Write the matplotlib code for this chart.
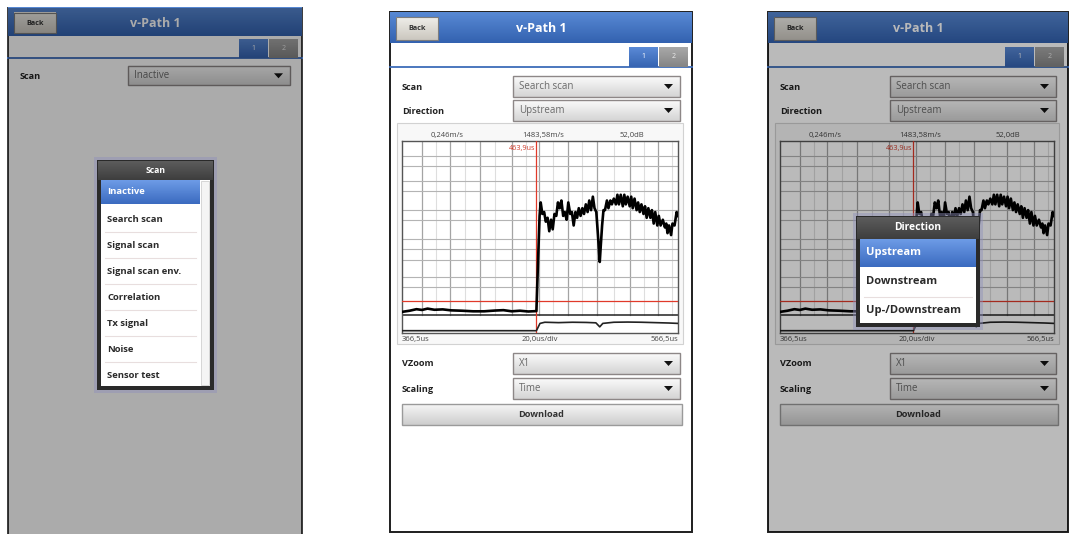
import numpy as np
import matplotlib
matplotlib.use("Agg")
from matplotlib import pyplot as plt
from matplotlib.patches import Rectangle, Polygon
from matplotlib.colors import LinearSegmentedColormap

plt.rcParams['font.family'] = ['Open Sans', 'DejaVu Sans']

# --- data ---
title = "v-Path 1"
scan_items = ["Inactive", "Search scan", "Signal scan", "Signal scan env.",
              "Correlation", "Tx signal", "Noise", "Sensor test"]
direction_items = ["Upstream", "Downstream", "Up-/Downstream"]
top_rows = [("Scan", "Search scan"), ("Direction", "Upstream")]
bottom_rows = [("VZoom", "X1"), ("Scaling", "Time")]
graph_top_labels = ["0,246m/s", "1483,58m/s", "52,0dB"]
graph_bottom_labels = ["366,5us", "20,0us/div", "566,5us"]
t_start, t_end = 366.5, 566.5
cursor_us = 463.9
threshold = 16.7     # red level line (percent of screen height)
sep_level = 9.4      # split between signal and envelope strip
grid_x_major = [381, 401, 423, 446, 466, 487, 508, 532, 552]
grid_x_minor = [391, 412, 434, 456, 476, 497, 520, 542, 562]
grid_y = [24, 29, 38, 44, 49, 59, 64, 74, 79, 87, 92]

sig_t = [366.5, 372, 377, 381, 385, 390, 396, 402, 410, 418, 426, 434, 440, 446, 452, 458, 463.9,
         465.2, 466.2, 467.0, 468.2, 469.5, 470.7, 472.0, 473.2, 474.5, 475.7, 477.0, 478.3,
         479.5, 480.8, 482.0, 483.3, 484.5, 485.8, 487.0, 488.4, 489.6, 490.9, 492.2, 493.4,
         494.6, 495.9, 497.2, 498.4, 499.7, 501.0, 502.2, 503.5, 504.8, 506.0, 507.3, 508.5,
         509.3, 509.8, 510.5, 511.5, 512.5, 513.6, 515.0, 516.1, 517.5, 518.6, 520.0, 521.5,
         522.6, 523.7, 525.0, 526.5, 527.6, 528.7, 530.0, 531.5, 532.6, 533.7, 535.0, 536.5,
         537.6, 538.8, 540.0, 541.5, 542.6, 543.8, 545.0, 546.5, 547.6, 548.9, 550.0, 551.5,
         552.6, 553.9, 555.5, 557.0, 558.0, 558.9, 560.0, 561.5, 562.5, 564.0, 565.5, 566.5]
sig_v = [11.0, 11.6, 12.4, 12.0, 12.7, 12.1, 12.3, 11.8, 11.6, 11.3, 11.3, 11.7, 11.9, 11.3, 11.6, 11.2, 11.4,
         40, 61, 68, 62, 63, 58, 60, 53, 59, 54, 62, 61,
         68, 65, 69, 61, 63, 59, 68, 62, 63, 56, 63, 60,
         65, 61, 65, 62, 67, 63, 69, 64, 71, 65, 63, 51,
         42, 37, 45, 56, 64, 64, 69, 65, 69, 67, 70, 67,
         72, 67, 72, 66, 72, 67, 71, 66, 71, 65, 70, 64,
         68, 63, 67, 62, 66, 60, 65, 60, 64, 57, 63, 56,
         61, 56, 59, 55, 57, 52, 56, 51, 57, 56, 63, 61]
env_t = [366.5, 463.9, 466.5, 470, 480, 490, 500, 507, 509.8, 512, 520, 530, 540, 550, 560, 566.5]
env_v = [1.2, 1.2, 5.0, 5.6, 5.4, 5.6, 5.5, 5.3, 3.2, 5.0, 5.6, 5.7, 5.6, 5.4, 5.2, 5.0]

W, H = 1069, 534
fig = plt.figure(figsize=(W / 100, H / 100), dpi=100)
ax = fig.add_axes([0, 0, 1, 1])
top = fig.add_axes([0, 0, 1, 1], zorder=5)


def rect(a, x0, y0, x1, y1, fc, ec='none', lw=0, z=1, alpha=1.0):
    a.add_patch(Rectangle((x0, y0), x1 - x0, y1 - y0, facecolor=fc, edgecolor=ec,
                          linewidth=lw, zorder=z, alpha=alpha))


def grad(a, x0, y0, x1, y1, c0, c1, z=1, ec=None, lw=0.8):
    cm = LinearSegmentedColormap.from_list('g', [c0, c1])
    a.imshow(np.linspace(0, 1, 40).reshape(-1, 1), cmap=cm, extent=(x0, x1, y1, y0),
             aspect='auto', zorder=z, interpolation='bilinear')
    if ec:
        rect(a, x0, y0, x1, y1, 'none', ec, lw, z + 0.1)


def dropdown(a, x0, y0, x1, y1, text, z=3):
    grad(a, x0, y0, x1, y1, '#fbfbfb', '#d4d4d4', z, ec='#8d8787', lw=1)
    yc = (y0 + y1) / 2
    a.text(x0 + 6, yc, text, fontsize=7, color='#6a6a6a', va='center', ha='left', zorder=z + 1)
    a.add_patch(Polygon([(x1 - 16, yc - 2.5), (x1 - 7, yc - 2.5), (x1 - 11.5, yc + 2.5)],
                        closed=True, facecolor='#111', zorder=z + 1))


def graph(ox, w):
    l, r, t, b = ox + 12, ox + w - 14, 141, 333
    rect(ax, ox + 7, 123, ox + w - 9, 344, '#f8f8f8', '#d2d2d2', 0.8, z=2)
    for frac, lab in zip([0.163, 0.511, 0.833], graph_top_labels):
        ax.text(l + frac * (r - l), 135, lab, fontsize=5.5, color='#444', ha='center', va='center', zorder=3)
    ax.text(l, 339, graph_bottom_labels[0], fontsize=5.5, color='#444', ha='left', va='center', zorder=3)
    ax.text((l + r) / 2, 339, graph_bottom_labels[1], fontsize=5.5, color='#444', ha='center', va='center', zorder=3)
    ax.text(r, 339, graph_bottom_labels[2], fontsize=5.5, color='#444', ha='right', va='center', zorder=3)

    g = fig.add_axes([l / W, 1 - b / H, (r - l) / W, (b - t) / H], zorder=1)
    g.set_facecolor('white')
    g.set_xlim(t_start, t_end)
    g.set_ylim(0, 100)
    g.set_xticks([])
    g.set_yticks([])
    for sp in g.spines.values():
        sp.set_color('#555')
        sp.set_linewidth(1)
    ys = sep_level / 100
    for xv in grid_x_minor:
        g.axvline(xv, ymin=ys, color='#dedede', lw=0.8, zorder=1)
    for xv in grid_x_major:
        g.axvline(xv, ymin=ys, color='#a4a4a4', lw=0.9, zorder=1)
    for yv in grid_y:
        g.axhline(yv, color='#b4b4b4', lw=0.8, zorder=1)
    g.axhline(sep_level, color='#222', lw=1.1, zorder=2)
    g.axhline(threshold, color='#e03a2a', lw=0.9, zorder=3)
    g.axvline(cursor_us, color='#e03a2a', lw=0.9, zorder=3)
    g.text(cursor_us - 0.6, 96, "463,9us", fontsize=5.2, color='#d03a2a', ha='right', va='center', zorder=4)
    g.plot(sig_t, sig_v, color='black', lw=1.9, zorder=5)
    g.plot(env_t, env_v, color='#222', lw=1.2, zorder=5)


def screen(ox, oy, w, bottom, s, rows, with_graph, edge='#1e1e1e'):
    def Y(v):
        return oy + s * v
    rect(ax, ox, oy, ox + w, bottom, 'white', edge, 1.4, z=1)
    grad(ax, ox, Y(0), ox + w, Y(31), '#5889d4', '#3362b0', z=2)
    grad(ax, ox + 6, Y(5), ox + 48, Y(28), '#efeee9', '#cbc7bf', z=3, ec='#7d7d7d')
    ax.text(ox + 27, Y(16.5), 'Back', fontsize=5.2, weight='bold', color='#333', ha='center', va='center', zorder=4)
    ax.text(ox + w / 2, Y(17), title, fontsize=9, weight='bold', color='white', ha='center', va='center', zorder=4)
    rect(ax, ox + 0.7, Y(31), ox + w - 0.7, Y(55), 'white', z=2)
    ax.plot([ox, ox + w], [Y(55), Y(55)], color='#3d6cb9', lw=1.3, zorder=3)
    grad(ax, ox + w - 63, Y(35), ox + w - 34, Y(55), '#5a8ad6', '#3664b2', z=3)
    grad(ax, ox + w - 33, Y(35), ox + w - 4, Y(55), '#a8a8a8', '#858585', z=3)
    ax.text(ox + w - 48.5, Y(45), '1', fontsize=5, color='white', ha='center', va='center', zorder=4)
    ax.text(ox + w - 18.5, Y(45), '2', fontsize=5, color='#eee', ha='center', va='center', zorder=4)
    x_dd = ox + 0.407 * w
    for i, (lab, val) in enumerate(rows[:2]):
        ax.text(ox + 12, Y(75 + 24 * i), lab, fontsize=6.6, weight='bold', color='#222', ha='left', va='center', zorder=4)
        dropdown(ax, x_dd, Y(64 + 24 * i), ox + w - 12, Y(85 + 24 * i), val)
    if not with_graph:
        return
    graph(ox, w)
    for i, (lab, val) in enumerate(bottom_rows):
        ax.text(ox + 12, Y(352 + 25 * i), lab, fontsize=6.6, weight='bold', color='#222', ha='left', va='center', zorder=4)
        dropdown(ax, x_dd, Y(341 + 25 * i), ox + w - 12, Y(362 + 25 * i), val)
    grad(ax, ox + 12, Y(392), ox + w - 10, Y(413), '#f6f6f6', '#cdcdcd', z=3, ec='#9a9a9a', lw=1)
    ax.text(ox + w / 2, Y(402.5), 'Download', fontsize=6.6, weight='bold', color='#333', ha='center', va='center', zorder=4)


def popup(x0, y0, x1, y1, head, items, ys, hdr, hi_bottom, hi_right, fs, tx, scroll=False):
    rect(top, x0 - 3, y0 - 3, x1 + 3, y1 + 3, '#8f90bb', z=2, alpha=0.45)
    rect(top, x0, y0, x1, y1, '#2a2a2a', z=3)
    grad(top, x0 + 1, y0 + 1, x1 - 1, y0 + hdr, '#5c5c5c', '#3e3e3e', z=4)
    top.text((x0 + x1) / 2, y0 + hdr / 2 + 0.5, head, fontsize=fs * 0.92, weight='bold', color='white',
             ha='center', va='center', zorder=6)
    rect(top, x0 + 4, y0 + hdr, x1 - 4, y1 - 4, 'white', z=4)
    for ya, yb in zip(ys[1:-1], ys[2:]):
        top.plot([x0 + 8, hi_right - 4], [(ya + yb) / 2, (ya + yb) / 2], color='#e8dede', lw=0.8, zorder=5)
    grad(top, x0 + 4, y0 + hdr, hi_right, hi_bottom, '#6d9be6', '#3b6bc0', z=5)
    for k, (it, yc) in enumerate(zip(items, ys)):
        top.text(tx, yc, it, fontsize=fs, weight='bold', color='white' if k == 0 else '#2b2b2b',
                 ha='left', va='center', zorder=6)
    if scroll:
        rect(top, hi_right + 1, y0 + hdr + 1, x1 - 5, y1 - 5, '#f4f4f4', '#d0d0d0', 0.6, z=5)


# panel 1: scan selection dialog
screen(8, 8, 294, 540, 0.91, [("Scan", "Inactive")], False, edge='#3a3a3a')
rect(top, 8, 8, 302, 540, 'black', z=1, alpha=0.33)
popup(97, 160, 214, 390, "Scan", scan_items, [192, 219, 245, 271, 297, 323, 349, 375],
      20, 204, 200, 6.8, 107, scroll=True)

# panel 2: search scan view
screen(390, 12, 302, 532, 1.0, top_rows, True)

# panel 3: direction selection dialog over the scan view
screen(768, 12, 300, 532, 1.0, top_rows, True)
rect(top, 768, 12, 1068, 532, 'black', z=1, alpha=0.27)
popup(856, 216, 980, 327, "Direction", direction_items, [253, 282, 311],
      23, 267, 976, 8, 866)

for a in (ax, top):
    a.set_xlim(0, W)
    a.set_ylim(H, 0)
    a.axis('off')

fig.savefig("out.png", dpi=100)
